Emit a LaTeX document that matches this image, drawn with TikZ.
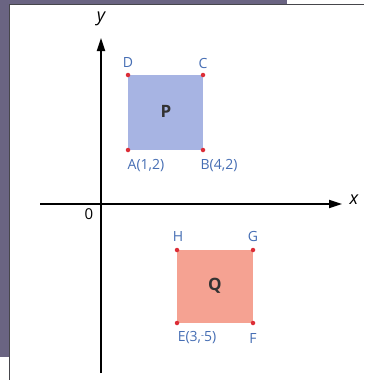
\documentclass[tikz,border=0pt]{standalone}
\usepackage{fontspec}
\setmainfont{Open Sans}
\usetikzlibrary{arrows.meta}
\definecolor{bgpurple}{RGB}{106,100,130}
\definecolor{framegray}{RGB}{70,70,75}
\definecolor{pfill}{RGB}{167,180,227}
\definecolor{qfill}{RGB}{245,162,146}
\definecolor{lblue}{RGB}{70,110,180}
\definecolor{dotred}{RGB}{220,45,55}
\tikzset{
  lbl/.style={text=lblue, font=\fontsize{14}{16}\selectfont, inner sep=0pt},
  axislbl/.style={font=\itshape\fontsize{18}{20}\selectfont, inner sep=0pt},
  dot/.style={circle, fill=dotred, inner sep=0pt, minimum size=4.5pt},
  axis/.style={line width=1.8pt, -{Triangle[length=13pt,width=8pt]}},
  big/.style={font=\fontsize{17}{19}\selectfont\bfseries, text=black!80, inner sep=0pt}
}
\begin{document}
\begin{tikzpicture}[x=1pt,y=-1pt]
\useasboundingbox (0,0) rectangle (364,380);
\fill[white] (0,0) rectangle (364,380);
% photo frame background
\fill[bgpurple] (0,0) rectangle (287,4);
\fill[bgpurple] (0,0) rectangle (9,357);
\draw[framegray, line width=1.6pt] (9.5,380) -- (9.5,4.5) -- (364,4.5);
% squares
\fill[pfill] (128,75) rectangle (203,150);
\fill[qfill] (177,250) rectangle (253,323);
% axes
\coordinate (xs) at (40,204);
\coordinate (xe) at (342,204);
\coordinate (ys) at (101,373);
\coordinate (ye) at (101,38);
\draw[axis] (xs) -- (xe);
\draw[axis] (ys) -- (ye);
\node[axislbl] (xl) at (354,200) {x};
\node[axislbl] (yl) at (101,19) {y};
\node[font=\fontsize{15}{17}\selectfont, inner sep=0pt] (o) at (89,214) {0};
% P corners
\node[dot] (A) at (128,150) {};
\node[dot] (B) at (203,150) {};
\node[dot] (C) at (203,75) {};
\node[dot] (D) at (128,75) {};
\node[lbl] (Dl) at (128,63) {D};
\node[lbl] (Cl) at (203,63) {C};
\node[lbl] (Al) at (146,166) {A(1,2)};
\node[lbl] (Bl) at (219,166) {B(4,2)};
\node[big] (P) at (166,111) {P};
% Q corners
\node[dot] (E) at (177,323) {};
\node[dot] (F) at (253,323) {};
\node[dot] (G) at (253,250) {};
\node[dot] (H) at (177,250) {};
\node[lbl] (Hl) at (178,236) {H};
\node[lbl] (Gl) at (253,236) {G};
\node[lbl] (El) at (197,338) {E(3,\raisebox{0.4ex}{\fontsize{9}{10}\selectfont -}5)};
\node[lbl] (Fl) at (253,338) {F};
\node[big] (Q) at (215,286) {Q};
\end{tikzpicture}
\end{document}
